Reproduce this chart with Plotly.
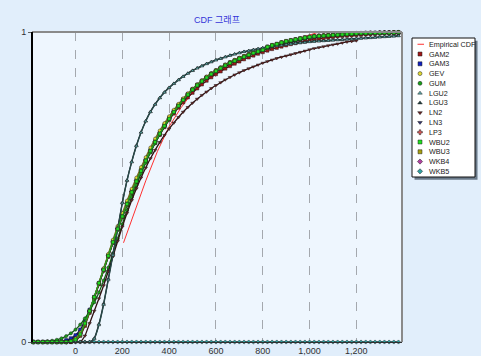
import plotly.graph_objects as go

# ---------------- data ----------------
X = [-180, -160, -140, -120, -100, -80, -60, -40, -20, 0,
     20, 40, 60, 80, 100, 120, 140, 160, 180, 200,
     220, 240, 260, 280, 300, 320, 340, 360, 380, 400,
     420, 440, 460, 480, 500, 520, 540, 560, 580, 600,
     620, 640, 660, 680, 700, 720, 740, 760, 780, 800,
     820, 840, 860, 880, 900, 920, 940, 960, 980, 1000,
     1020, 1040, 1060, 1080, 1100, 1120, 1140, 1160, 1180, 1200,
     1220, 1240, 1260, 1280, 1300, 1320, 1340, 1360, 1380]

EMP_X = [205, 250, 300, 350, 400, 450, 500, 550, 600, 650, 700, 750, 800, 850, 900, 950, 1000, 1040]
EMP_Y = [0.32, 0.415, 0.52, 0.615, 0.695, 0.755, 0.805, 0.842, 0.868, 0.89, 0.91, 0.928,
         0.943, 0.957, 0.968, 0.978, 0.99, 1.0]

GAM2 = [0, 0, 0, 0, 0, 0, 0, 0, 0, 0.004,
        0.02, 0.052, 0.094, 0.14, 0.186, 0.23, 0.275, 0.32, 0.362, 0.402,
        0.442, 0.48, 0.515, 0.55, 0.582, 0.613, 0.642, 0.668, 0.693, 0.716,
        0.737, 0.756, 0.773, 0.789, 0.804, 0.818, 0.831, 0.843, 0.854, 0.864,
        0.873, 0.882, 0.89, 0.898, 0.905, 0.912, 0.918, 0.924, 0.93, 0.935,
        0.94, 0.945, 0.949, 0.953, 0.957, 0.961, 0.964, 0.967, 0.97, 0.973,
        0.976, 0.978, 0.98, 0.982, 0.984, 0.986, 0.987, 0.988, 0.989, 0.99,
        0.991, 0.992, 0.993, 0.994, 0.995, 0.995, 0.996, 0.996, 0.997]
GAM3 = [0, 0, 0, 0, 0, 0, 0.002, 0.006, 0.012, 0.022,
        0.04, 0.068, 0.104, 0.145, 0.188, 0.232, 0.277, 0.321, 0.364, 0.405,
        0.445, 0.483, 0.518, 0.552, 0.585, 0.616, 0.645, 0.672, 0.697, 0.72,
        0.742, 0.762, 0.781, 0.798, 0.814, 0.828, 0.841, 0.853, 0.864, 0.874,
        0.883, 0.892, 0.9, 0.907, 0.914, 0.92, 0.926, 0.932, 0.937, 0.942,
        0.948, 0.953, 0.958, 0.962, 0.966, 0.97, 0.973, 0.976, 0.979, 0.982,
        0.984, 0.986, 0.987, 0.988, 0.989, 0.99, 0.991, 0.992, 0.993, 0.994,
        0.995, 0.995, 0.996, 0.996, 0.997, 0.997, 0.998, 0.998, 0.998]
GEV = [0, 0, 0, 0, 0, 0, 0, 0, 0.003, 0.012,
       0.03, 0.062, 0.102, 0.146, 0.192, 0.238, 0.284, 0.33, 0.374, 0.416,
       0.456, 0.494, 0.53, 0.564, 0.596, 0.627, 0.656, 0.682, 0.706, 0.728,
       0.749, 0.768, 0.786, 0.802, 0.817, 0.831, 0.844, 0.856, 0.867, 0.877,
       0.886, 0.895, 0.903, 0.91, 0.917, 0.923, 0.929, 0.935, 0.94, 0.945,
       0.951, 0.956, 0.961, 0.965, 0.969, 0.972, 0.975, 0.978, 0.981, 0.984,
       0.986, 0.988, 0.989, 0.99, 0.991, 0.992, 0.993, 0.994, 0.995, 0.996,
       0.996, 0.997, 0.997, 0.997, 0.998, 0.998, 0.998, 0.999, 0.999]
GUM = [0, 0, 0, 0.002, 0.004, 0.007, 0.012, 0.019, 0.028, 0.04,
       0.056, 0.076, 0.1, 0.128, 0.16, 0.198, 0.24, 0.286, 0.333, 0.38,
       0.425, 0.467, 0.506, 0.543, 0.578, 0.611, 0.641, 0.669, 0.695, 0.719,
       0.741, 0.761, 0.78, 0.797, 0.813, 0.827, 0.84, 0.852, 0.863, 0.873,
       0.883, 0.892, 0.9, 0.907, 0.914, 0.92, 0.926, 0.932, 0.937, 0.942,
       0.948, 0.953, 0.958, 0.962, 0.966, 0.97, 0.973, 0.976, 0.979, 0.982,
       0.984, 0.986, 0.987, 0.988, 0.989, 0.99, 0.991, 0.992, 0.993, 0.994,
       0.995, 0.995, 0.996, 0.996, 0.997, 0.997, 0.998, 0.998, 0.998]
LGU2 = [0, 0, 0, 0, 0, 0, 0, 0, 0, 0,
        0, 0, 0, 0.01, 0.055, 0.12, 0.2, 0.28, 0.362, 0.448,
        0.52, 0.58, 0.632, 0.676, 0.712, 0.742, 0.766, 0.787, 0.805, 0.82,
        0.833, 0.845, 0.856, 0.866, 0.875, 0.883, 0.89, 0.897, 0.903, 0.909,
        0.914, 0.919, 0.924, 0.928, 0.932, 0.936, 0.939, 0.942, 0.945, 0.948,
        0.951, 0.953, 0.955, 0.957, 0.959, 0.961, 0.963, 0.965, 0.966, 0.968,
        0.969, 0.97, 0.971, 0.972, 0.973, 0.974, 0.975, 0.976, 0.977, 0.978,
        0.979, 0.98, 0.981, 0.982, 0.983, 0.984, 0.985, 0.986, 0.987]
LGU3 = [0, 0, 0, 0, 0, 0, 0, 0, 0, 0,
        0, 0, 0, 0.012, 0.058, 0.124, 0.204, 0.285, 0.366, 0.45,
        0.522, 0.582, 0.634, 0.677, 0.713, 0.743, 0.767, 0.788, 0.806, 0.821,
        0.834, 0.846, 0.857, 0.867, 0.876, 0.884, 0.891, 0.898, 0.904, 0.91,
        0.915, 0.92, 0.925, 0.929, 0.933, 0.937, 0.94, 0.943, 0.946, 0.949,
        0.952, 0.954, 0.956, 0.958, 0.96, 0.962, 0.964, 0.966, 0.967, 0.969,
        0.97, 0.971, 0.972, 0.973, 0.974, 0.975, 0.976, 0.977, 0.978, 0.979,
        0.98, 0.981, 0.982, 0.983, 0.984, 0.985, 0.986, 0.987, 0.988]
LN2 = [0, 0, 0, 0, 0, 0, 0, 0, 0, 0,
       0, 0.02, 0.06, 0.1, 0.14, 0.182, 0.228, 0.276, 0.325, 0.372,
       0.416, 0.457, 0.495, 0.53, 0.562, 0.592, 0.619, 0.644, 0.667, 0.688,
       0.707, 0.725, 0.742, 0.757, 0.771, 0.784, 0.796, 0.807, 0.818, 0.828,
       0.837, 0.846, 0.854, 0.862, 0.869, 0.876, 0.882, 0.888, 0.894, 0.9,
       0.905, 0.91, 0.915, 0.919, 0.923, 0.927, 0.931, 0.935, 0.939, 0.943,
       0.947, 0.95, 0.953, 0.956, 0.959, 0.962, 0.965, 0.968, 0.97, 0.972,
       None, None, None, None, None, None, None, None, None]
LN3 = [0, 0, 0, 0, 0, 0, 0, 0.003, 0.008, 0.018,
       0.036, 0.064, 0.1, 0.142, 0.186, 0.231, 0.276, 0.32, 0.363, 0.404,
       0.444, 0.482, 0.517, 0.551, 0.583, 0.614, 0.643, 0.67, 0.695, 0.718,
       0.74, 0.76, 0.779, 0.796, 0.812, 0.826, 0.839, 0.851, 0.862, 0.872,
       0.881, 0.89, 0.898, 0.905, 0.912, 0.918, 0.924, 0.93, 0.935, 0.94,
       0.946, 0.951, 0.956, 0.96, 0.964, 0.968, 0.971, 0.974, 0.977, 0.98,
       0.982, 0.984, 0.986, 0.987, 0.988, 0.989, 0.99, 0.991, 0.992, 0.993,
       0.994, 0.995, 0.995, 0.996, 0.996, 0.997, 0.997, 0.998, 0.998]
LP3 = [0, 0, 0, 0, 0, 0, 0, 0, 0.002, 0.009,
       0.027, 0.058, 0.098, 0.143, 0.189, 0.234, 0.279, 0.323, 0.366, 0.407,
       0.447, 0.485, 0.52, 0.554, 0.586, 0.617, 0.646, 0.673, 0.698, 0.721,
       0.743, 0.763, 0.782, 0.799, 0.815, 0.829, 0.842, 0.854, 0.865, 0.875,
       0.884, 0.893, 0.901, 0.908, 0.915, 0.921, 0.927, 0.933, 0.938, 0.943,
       0.949, 0.954, 0.959, 0.963, 0.967, 0.971, 0.974, 0.977, 0.98, 0.983,
       0.985, 0.987, 0.988, 0.989, 0.99, 0.991, 0.992, 0.993, 0.994, 0.995,
       0.996, 0.996, 0.997, 0.997, 0.997, 0.998, 0.998, 0.998, 0.999]
WBU2 = [0, 0, 0, 0, 0, 0, 0, 0, 0.002, 0.008,
        0.025, 0.06, 0.1, 0.145, 0.19, 0.233, 0.278, 0.322, 0.365, 0.405,
        0.445, 0.483, 0.518, 0.552, 0.585, 0.616, 0.645, 0.672, 0.697, 0.72,
        0.742, 0.762, 0.781, 0.798, 0.814, 0.828, 0.841, 0.853, 0.864, 0.874,
        0.883, 0.892, 0.9, 0.907, 0.914, 0.92, 0.926, 0.932, 0.937, 0.942,
        0.952, 0.957, 0.961, 0.966, 0.97, 0.973, 0.976, 0.979, 0.982, 0.984,
        0.986, 0.987, 0.988, 0.989, 0.99, 0.991, 0.992, 0.993, 0.994, 0.995,
        0.996, 0.996, 0.997, 0.997, 0.997, 0.998, 0.998, 0.998, 0.999]
WBU3 = [0, 0, 0, 0, 0, 0, 0, 0, 0.001, 0.006,
        0.022, 0.056, 0.097, 0.143, 0.189, 0.234, 0.28, 0.325, 0.368, 0.409,
        0.449, 0.487, 0.522, 0.556, 0.588, 0.619, 0.648, 0.675, 0.7, 0.723,
        0.745, 0.765, 0.783, 0.8, 0.816, 0.83, 0.843, 0.855, 0.866, 0.876,
        0.885, 0.894, 0.902, 0.909, 0.916, 0.922, 0.928, 0.934, 0.939, 0.944,
        0.953, 0.958, 0.962, 0.967, 0.971, 0.974, 0.977, 0.98, 0.983, 0.985,
        0.987, 0.988, 0.989, 0.99, 0.991, 0.992, 0.993, 0.994, 0.995, 0.996,
        0.996, 0.997, 0.997, 0.997, 0.998, 0.998, 0.998, 0.999, 0.999]
WKB4 = [0, 0, 0, 0, 0, 0, 0, 0, 0.002, 0.01,
        0.028, 0.06, 0.1, 0.144, 0.19, 0.235, 0.28, 0.324, 0.367, 0.408,
        0.448, 0.486, 0.521, 0.555, 0.587, 0.618, 0.647, 0.674, 0.699, 0.722,
        0.744, 0.764, 0.782, 0.799, 0.815, 0.829, 0.842, 0.854, 0.865, 0.875,
        0.884, 0.893, 0.901, 0.908, 0.915, 0.921, 0.927, 0.933, 0.938, 0.943,
        0.952, 0.957, 0.961, 0.966, 0.97, 0.973, 0.976, 0.979, 0.982, 0.984,
        0.986, 0.988, 0.989, 0.99, 0.991, 0.992, 0.993, 0.994, 0.995, 0.996,
        0.996, 0.997, 0.997, 0.997, 0.998, 0.998, 0.998, 0.999, 0.999]
WKB5 = [0] * len(X)

XTICKS = [0, 200, 400, 600, 800, 1000, 1200]
XTICK_TEXT = ["0", "200", "400", "600", "800", "1,000", "1,200"]
YTICKS = [0, 1]
YTICK_TEXT = ["0", "1"]

TITLE = "CDF 그래프"

# name, values, symbol, fill colour, line colour
SERIES = [
    ("GAM2", GAM2, "square", "#a01818", "#5a1010"),
    ("GAM3", GAM3, "square", "#1020c0", "#101060"),
    ("GEV", GEV, "circle", "#e0d830", "#707020"),
    ("GUM", GUM, "circle", "#18a018", "#106010"),
    ("LGU2", LGU2, "triangle-up", "#5aa8a8", "#2a4a4a"),
    ("LGU3", LGU3, "triangle-up", "#204040", "#102020"),
    ("LN2", LN2, "triangle-down", "#6a2020", "#301010"),
    ("LN3", LN3, "triangle-down", "#303070", "#181838"),
    ("LP3", LP3, "cross", "#e05858", "#a03030"),
    ("WBU2", WBU2, "square", "#20e020", "#20a020"),
    ("WBU3", WBU3, "square", "#a8a010", "#606010"),
    ("WKB4", WKB4, "diamond", "#b040a0", "#602060"),
    ("WKB5", WKB5, "diamond", "#30a0a0", "#204848"),
]
# drawing order (last on top) so that the green band dominates as in the picture
DRAW_ORDER = ["WKB5", "WKB4", "LP3", "LN3", "GAM3", "GAM2", "WBU3", "GEV",
              "GUM", "LN2", "LGU3", "LGU2", "WBU2"]

# ---------------- figure ----------------
W, H = 481, 356
ML, MR, MT, MB = 32, 6, 32, 14
PW = W - ML - MR
plot_right = 402
XDOM = [0, (plot_right - ML) / PW]
LEG_L, LEG_R, LEG_T, LEG_B = 412, 475, 38, 177
LXDOM = [(LEG_L - ML) / PW, (LEG_R - ML) / PW]
PH = H - MT - MB
LYDOM = [(H - MB - LEG_B) / PH, (H - MB - LEG_T) / PH]

fig = go.Figure()

fig.add_trace(go.Scatter(x=EMP_X, y=EMP_Y, mode="lines", name="Empirical CDF",
                         line=dict(color="#ff3030", width=1), showlegend=False,
                         cliponaxis=False))

lookup = {s[0]: s for s in SERIES}
for key in DRAW_ORDER:
    name, ys, sym, col, lcol = lookup[key]
    fig.add_trace(go.Scatter(
        x=X, y=ys, mode="lines+markers", name=name, showlegend=False, cliponaxis=False,
        line=dict(color=lcol, width=1.3, shape="spline", smoothing=0.6),
        marker=dict(symbol=sym, size=3.2, color=col, line=dict(color="#202020", width=0.5))))

# custom legend on an auxiliary axis
LEG_ROWS = ["Empirical CDF"] + [s[0] for s in SERIES]
for i, (name, ys, sym, col, lcol) in enumerate(SERIES):
    fig.add_trace(go.Scatter(
        x=[8], y=[i + 1], mode="markers", xaxis="x2", yaxis="y2", showlegend=False,
        marker=dict(symbol=sym, size=4, color=col, line=dict(color="#202020", width=0.5))))
fig.add_trace(go.Scatter(x=[5.5, 12], y=[0, 0], mode="lines", xaxis="x2", yaxis="y2",
                         showlegend=False, line=dict(color="#ff3030", width=1)))
for i, label in enumerate(LEG_ROWS):
    fig.add_annotation(x=14.5, y=i, xref="x2", yref="y2", text=label, showarrow=False,
                       xanchor="left", yanchor="middle",
                       font=dict(family="Arial, Liberation Sans", size=7.2, color="#202020"))

# legend box shadow + box
fig.add_shape(type="rect", xref="x2 domain", yref="y2 domain", x0=0.04, x1=1.04, y0=-0.02, y1=0.98,
              fillcolor="#6a7a8a", line=dict(width=0), layer="below")
fig.add_shape(type="rect", xref="x2 domain", yref="y2 domain", x0=0, x1=1, y0=0, y1=1,
              fillcolor="white", line=dict(color="#101010", width=1), layer="below")

# plot frame
fig.add_shape(type="line", xref="x domain", yref="y domain", x0=0, x1=1, y0=1, y1=1,
              line=dict(color="#8a8a8a", width=2))
fig.add_shape(type="line", xref="x domain", yref="y domain", x0=1, x1=1, y0=0, y1=1,
              line=dict(color="#8a8a8a", width=2))
fig.add_shape(type="line", xref="x domain", yref="y domain", x0=0, x1=0, y0=0, y1=1,
              line=dict(color="#000000", width=2))

fig.update_layout(
    width=W, height=H,
    margin=dict(l=ML, r=MR, t=MT, b=MB, autoexpand=False),
    paper_bgcolor="#e1eefb",
    plot_bgcolor="#eef6fe",
    hovermode=False,
    title=dict(text=TITLE, x=(ML + (plot_right - ML) / 2) / W, xanchor="center",
               y=1 - 20 / H, yanchor="middle",
               font=dict(family="Arial, Noto Sans CJK KR", size=9, color="#3434d8")),
    xaxis=dict(domain=XDOM, range=[-186, 1395], tickvals=XTICKS, ticktext=XTICK_TEXT,
               showgrid=True, gridcolor="#a4a8ae", griddash="dash", gridwidth=1,
               zeroline=False, showline=True, linecolor="#303030", linewidth=1,
               ticks="", automargin=False,
               tickfont=dict(family="Arial, Liberation Sans", size=9, color="#303030")),
    yaxis=dict(range=[0, 1], tickvals=YTICKS, ticktext=YTICK_TEXT, automargin=False,
               showgrid=True, gridcolor="#a4a8ae", griddash="dash", gridwidth=1,
               zeroline=False, showline=False, ticks="outside", ticklen=3, tickcolor="#606060",
               tickfont=dict(family="Arial, Liberation Sans", size=9, color="#303030")),
    xaxis2=dict(domain=LXDOM, range=[0, LEG_R - LEG_L], anchor="y2", visible=False,
                fixedrange=True),
    yaxis2=dict(domain=LYDOM, range=[13.58, -0.64], anchor="x2", visible=False,
                fixedrange=True),
    showlegend=False,
)

fig.write_html("out.html", config={"displayModeBar": False, "staticPlot": True},
               post_script="document.body.style.margin='0px';document.body.style.overflow='hidden';")
